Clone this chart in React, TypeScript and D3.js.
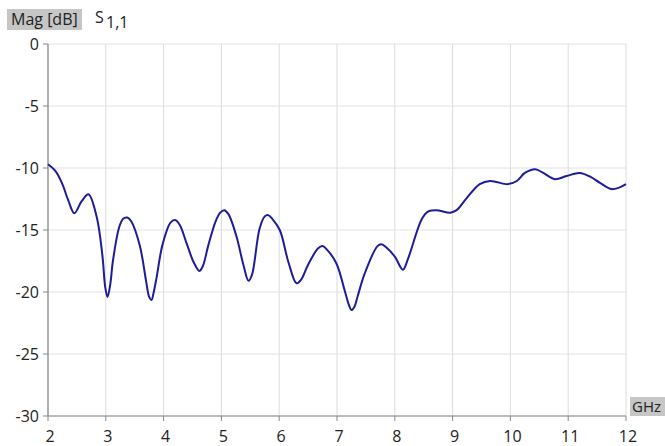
import { useMemo } from "react";
import * as d3 from "d3";

const W = 665;
const H = 446;
const MARGIN = { top: 44, right: 39, bottom: 30, left: 48 };

// frequency (GHz) / magnitude (dB)
const freqGHz = [
  2.0, 2.12, 2.24, 2.35, 2.455, 2.58, 2.7, 2.84, 2.94, 2.99, 3.03, 3.08, 3.12,
  3.23, 3.3, 3.37, 3.44, 3.59, 3.7, 3.75, 3.79, 3.83, 3.88, 3.98, 4.12, 4.2,
  4.28, 4.4, 4.52, 4.62, 4.68, 4.77, 4.9, 4.98, 5.05, 5.12, 5.26, 5.38, 5.47,
  5.53, 5.66, 5.75, 5.81, 5.88, 6.01, 6.16, 6.3, 6.38, 6.5, 6.67, 6.75, 6.83,
  6.99, 7.14, 7.21, 7.25, 7.3, 7.36, 7.48, 7.7, 7.77, 7.85, 8.0, 8.14, 8.23,
  8.47, 8.58, 8.72, 8.96, 9.07, 9.24, 9.47, 9.65, 9.96, 10.11, 10.25, 10.43,
  10.57, 10.77, 10.97, 11.2, 11.38, 11.55, 11.75, 11.87, 12.0,
];
const magDb = [
  -9.7, -10.2, -11.2, -12.6, -13.65, -12.7, -12.12, -13.9, -17.0, -19.6, -20.4,
  -19.3, -17.6, -14.8, -14.1, -14.0, -14.3, -16.3, -19.2, -20.4, -20.65, -20.0,
  -18.8, -16.2, -14.4, -14.2, -14.6, -16.1, -17.6, -18.3, -17.9, -16.3, -14.3,
  -13.6, -13.4, -13.7, -15.5, -17.8, -19.1, -18.6, -14.9, -13.9, -13.8, -14.1,
  -15.0, -17.6, -19.3, -19.0, -17.8, -16.5, -16.3, -16.6, -17.7, -20.0, -21.1,
  -21.45, -21.2, -20.3, -18.5, -16.3, -16.15, -16.4, -17.15, -18.2, -17.3,
  -14.1, -13.5, -13.4, -13.6, -13.4, -12.45, -11.3, -11.05, -11.3, -11.05, -10.4,
  -10.1, -10.4, -10.9, -10.65, -10.4, -10.7, -11.2, -11.7, -11.6, -11.3,
];
const xTicks = [2, 3, 4, 5, 6, 7, 8, 9, 10, 11, 12];
const yTicks = [0, -5, -10, -15, -20, -25, -30];

const FONT = "'Open Sans', 'Noto Sans', sans-serif";
const TEXT = "#222";

const App = () => {
  const boundsWidth = W - MARGIN.left - MARGIN.right;
  const boundsHeight = H - MARGIN.top - MARGIN.bottom;

  const xScale = useMemo(
    () => d3.scaleLinear().domain([2, 12]).range([0, boundsWidth]),
    [boundsWidth]
  );
  const yScale = useMemo(
    () => d3.scaleLinear().domain([-30, 0]).range([boundsHeight, 0]),
    [boundsHeight]
  );

  const path = useMemo(() => {
    const data = freqGHz.map((f, i) => [f, magDb[i]] as [number, number]);
    return d3
      .line<[number, number]>()
      .x((d) => xScale(d[0]))
      .y((d) => yScale(d[1]))
      .curve(d3.curveCatmullRom.alpha(0.5))(data);
  }, [xScale, yScale]);

  return (
    <svg
      width={W}
      height={H}
      style={{ position: "fixed", left: 0, top: 0, background: "#fff" }}
      fontFamily={FONT}
    >
      {/* header labels */}
      <rect x={7} y={9} width={75} height={21} fill="#c6c6c6" />
      <text x={11} y={25} fontSize={16} fill={TEXT}>Mag [dB]</text>
      <text x={95} y={23} fontSize={16} fill={TEXT}>S</text>
      <text x={106} y={28} fontSize={16} fill={TEXT}>1,1</text>

      <g transform={`translate(${MARGIN.left},${MARGIN.top})`}>
        {/* grid */}
        {xTicks.map((t) => (
          <line key={"gx" + t} x1={xScale(t)} x2={xScale(t)} y1={0} y2={boundsHeight} stroke="#dcdcdc" strokeWidth={1} />
        ))}
        {yTicks.map((t) => (
          <line key={"gy" + t} x1={0} x2={boundsWidth} y1={yScale(t)} y2={yScale(t)} stroke="#e2e2e2" strokeWidth={1} />
        ))}

        {/* axes */}
        <line x1={0} x2={0} y1={0} y2={boundsHeight} stroke="#888" strokeWidth={1.2} />
        <line x1={0} x2={boundsWidth} y1={boundsHeight} y2={boundsHeight} stroke="#888" strokeWidth={1.2} />
        {xTicks.map((t) => (
          <g key={"tx" + t} transform={`translate(${xScale(t)},${boundsHeight})`}>
            <line y1={0} y2={5} stroke="#888" />
            <text x={2} y={26} textAnchor="middle" fontSize={16} fill={TEXT}>{t}</text>
          </g>
        ))}
        {yTicks.map((t) => (
          <g key={"ty" + t} transform={`translate(0,${yScale(t)})`}>
            <line x1={-5} x2={0} stroke="#888" />
            <text x={-9} dy="0.38em" textAnchor="end" fontSize={16} fill={TEXT}>{t}</text>
          </g>
        ))}

        {/* trace */}
        <path d={path ?? ""} fill="none" stroke="#1c1c9c" strokeWidth={2} strokeLinejoin="round" />
      </g>

      <rect x={630} y={397} width={35} height={19} fill="#c6c6c6" />
      <text x={632} y={412} fontSize={15} fill={TEXT}>GHz</text>
    </svg>
  );
};

export default App;
